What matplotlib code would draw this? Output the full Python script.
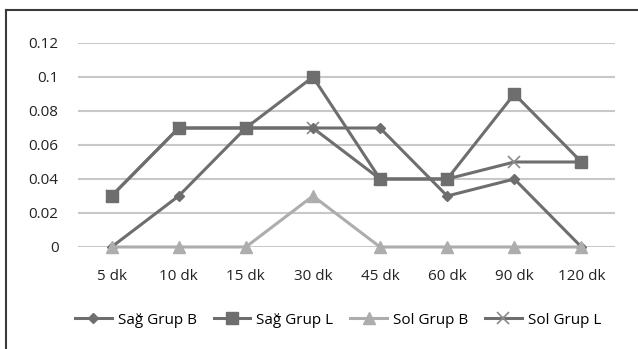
import matplotlib.pyplot as plt
from matplotlib.lines import Line2D

plt.rcParams['font.family'] = ['Open Sans', 'DejaVu Sans']

categories = ['5 dk', '10 dk', '15 dk', '30 dk', '45 dk', '60 dk', '90 dk', '120 dk']
sag_grup_b = [0, 0.03, 0.07, 0.07, 0.07, 0.03, 0.04, 0]
sag_grup_l = [0.03, 0.07, 0.07, 0.1, 0.04, 0.04, 0.09, 0.05]
sol_grup_b = [0, 0, 0, 0.03, 0, 0, 0, 0]
sol_grup_l = [0.03, 0.07, 0.07, 0.07, 0.04, 0.04, 0.05, 0.05]
y_ticks = [0, 0.02, 0.04, 0.06, 0.08, 0.1, 0.12]
y_labels = ['0', '0.02', '0.04', '0.06', '0.08', '0.1', '0.12']

dark = '#6e6e6e'
light = '#adadad'

W, H = 638, 349
fig = plt.figure(figsize=(W / 100, H / 100), dpi=100)
ax = fig.add_axes([78 / W, 1 - 247 / H, 537 / W, 204 / H])

x = list(range(len(categories)))
ax.plot(x, sol_grup_l, color=dark, lw=2.2, marker='x', ms=8, mew=1.2,
        mec='#8a8a8a', label='Sol Grup L', clip_on=False, zorder=3)
ax.plot(x, sag_grup_b, color=dark, lw=2.2, marker='D', ms=5,
        label='Sağ Grup B', clip_on=False, zorder=4)
ax.plot(x, sag_grup_l, color=dark, lw=2.2, marker='s', ms=8,
        label='Sağ Grup L', clip_on=False, zorder=4)
ax.plot(x, sol_grup_b, color=light, lw=2.2, marker='^', ms=8,
        label='Sol Grup B', clip_on=False, zorder=5)

ax.set_xlim(-0.5, len(categories) - 0.5)
ax.set_ylim(0, 0.12)
ax.set_yticks(y_ticks)
ax.set_yticklabels(y_labels)
ax.set_xticks(x)
ax.set_xticklabels(categories)
ax.tick_params(length=0, labelsize=11, colors='#222222')
ax.tick_params(axis='y', pad=14)
ax.tick_params(axis='x', pad=16)
ax.grid(axis='y', color='#c8c8c8', lw=1.5)
ax.set_axisbelow(True)
for s in ax.spines.values():
    s.set_visible(False)

# legend in the order of the original chart
handles, labels = ax.get_legend_handles_labels()
order = ['Sağ Grup B', 'Sağ Grup L', 'Sol Grup B', 'Sol Grup L']
hs = [handles[labels.index(o)] for o in order]
fig.legend(hs, order, loc='center', bbox_to_anchor=(0.53, 1 - 320 / H), ncol=4,
           frameon=False, fontsize=11, handlelength=2.4, columnspacing=1.1,
           handletextpad=0.4)

# outer frame (top and left only visible)
fig.add_artist(Line2D([6 / W, 1], [1 - 10 / H] * 2, color='#3a3a3a', lw=1.5))
fig.add_artist(Line2D([6 / W] * 2, [0, 1 - 10 / H], color='#3a3a3a', lw=1.5))

fig.savefig('out.png', dpi=100)
